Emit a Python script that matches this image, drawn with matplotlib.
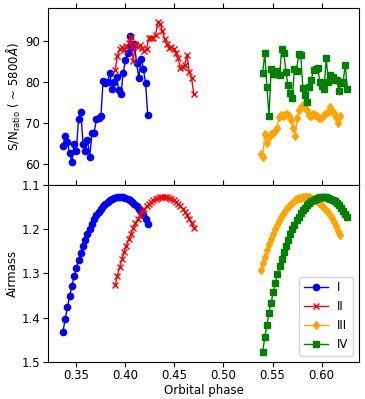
import matplotlib
matplotlib.use("Agg")
import matplotlib.pyplot as plt

# Orbital phase of each exposure
phase_I = [0.3365, 0.3388, 0.3410, 0.3433, 0.3456, 0.3479, 0.3501, 0.3524, 0.3547, 0.3570,
           0.3592, 0.3615, 0.3638, 0.3661, 0.3683, 0.3706, 0.3729, 0.3752, 0.3774, 0.3797,
           0.3820, 0.3843, 0.3865, 0.3888, 0.3911, 0.3934, 0.3956, 0.3979, 0.4002, 0.4025,
           0.4047, 0.4070, 0.4093, 0.4116, 0.4138, 0.4161, 0.4184, 0.4207, 0.4229]
snr_I = [64.6, 66.9, 65.4, 62.8, 60.6, 65.0, 63.2, 71.1, 72.8, 65.0,
         63.2, 65.9, 61.9, 67.6, 67.7, 71.1, 71.3, 71.8, 80.4, 79.8,
         80.1, 82.3, 78.3, 80.1, 81.2, 78.1, 77.1, 82.3, 85.4, 87.2,
         91.3, 88.7, 89.3, 84.6, 81.0, 85.8, 83.2, 79.8, 72.0]
airmass_I = [1.433, 1.403, 1.377, 1.352, 1.329, 1.307, 1.288, 1.270, 1.253, 1.237,
             1.224, 1.211, 1.199, 1.188, 1.178, 1.169, 1.161, 1.154, 1.148, 1.143,
             1.138, 1.135, 1.132, 1.129, 1.128, 1.127, 1.127, 1.128, 1.129, 1.132,
             1.135, 1.138, 1.143, 1.148, 1.154, 1.161, 1.169, 1.178, 1.188]

phase_II = [0.3897, 0.3920, 0.3943, 0.3966, 0.3989, 0.4011, 0.4034, 0.4057, 0.4080, 0.4103,
            0.4126, 0.4149, 0.4172, 0.4195, 0.4217, 0.4240, 0.4263, 0.4286, 0.4309, 0.4332,
            0.4355, 0.4378, 0.4401, 0.4423, 0.4446, 0.4469, 0.4492, 0.4515, 0.4538, 0.4561,
            0.4584, 0.4607, 0.4630, 0.4652, 0.4675, 0.4698]
snr_II = [83.0, 86.5, 88.0, 88.5, 87.8, 88.8, 89.5, 91.0, 85.2, 89.3,
          88.5, 89.0, 88.3, 87.6, 88.0, 90.7, 90.8, 90.9, 91.6, 94.7,
          94.3, 92.5, 90.5, 89.3, 88.3, 88.6, 88.2, 87.1, 86.0, 83.4,
          83.8, 84.3, 86.6, 82.6, 81.0, 77.2]
airmass_II = [1.326, 1.305, 1.286, 1.268, 1.251, 1.237, 1.223, 1.210, 1.198, 1.187,
              1.178, 1.169, 1.161, 1.154, 1.148, 1.143, 1.138, 1.134, 1.131, 1.129,
              1.128, 1.127, 1.127, 1.128, 1.129, 1.131, 1.134, 1.138, 1.143, 1.148,
              1.154, 1.161, 1.169, 1.178, 1.187, 1.198]

phase_III = [0.5379, 0.5400, 0.5420, 0.5441, 0.5461, 0.5482, 0.5503, 0.5523, 0.5544, 0.5565,
             0.5585, 0.5606, 0.5626, 0.5647, 0.5668, 0.5688, 0.5709, 0.5730, 0.5750, 0.5771,
             0.5791, 0.5812, 0.5833, 0.5853, 0.5874, 0.5895, 0.5915, 0.5936, 0.5956, 0.5977,
             0.5998, 0.6018, 0.6039, 0.6060, 0.6080, 0.6101, 0.6121, 0.6142, 0.6163, 0.6183]
snr_III = [62.5, 61.8, 67.3, 65.2, 66.8, 67.3, 67.6, 68.1, 68.8, 71.5,
           72.0, 71.7, 72.1, 72.2, 71.9, 70.8, 69.0, 67.0, 71.2, 73.3,
           74.0, 74.6, 73.8, 73.2, 72.0, 71.8, 72.4, 72.0, 71.7, 71.4,
           71.2, 71.8, 72.2, 72.8, 74.1, 73.0, 72.6, 71.6, 70.2, 71.8]
airmass_III = [1.293, 1.276, 1.262, 1.247, 1.234, 1.222, 1.210, 1.200, 1.190, 1.181,
               1.173, 1.166, 1.159, 1.153, 1.148, 1.143, 1.139, 1.135, 1.132, 1.130,
               1.129, 1.128, 1.127, 1.127, 1.128, 1.129, 1.131, 1.133, 1.136, 1.140,
               1.144, 1.149, 1.155, 1.161, 1.168, 1.175, 1.183, 1.193, 1.203, 1.213]

phase_IV = [0.5399, 0.5421, 0.5442, 0.5464, 0.5485, 0.5507, 0.5528, 0.5550, 0.5572, 0.5593,
            0.5615, 0.5636, 0.5658, 0.5679, 0.5701, 0.5723, 0.5744, 0.5766, 0.5787, 0.5809,
            0.5830, 0.5852, 0.5874, 0.5895, 0.5917, 0.5938, 0.5960, 0.5981, 0.6003, 0.6025,
            0.6046, 0.6068, 0.6089, 0.6111, 0.6132, 0.6154, 0.6176, 0.6197, 0.6219, 0.6240,
            0.6262]
snr_IV = [82.3, 87.1, 78.9, 71.9, 83.2, 82.0, 82.0, 82.8, 81.7, 88.0,
          87.2, 82.5, 79.3, 77.3, 76.3, 83.2, 82.8, 86.9, 86.6, 78.5,
          76.9, 75.2, 78.9, 80.6, 83.0, 83.2, 83.6, 80.1, 79.1, 78.3,
          85.9, 80.1, 81.9, 81.2, 80.6, 80.6, 77.8, 79.8, 80.1, 84.3,
          78.3]
airmass_IV = [1.477, 1.445, 1.417, 1.390, 1.366, 1.343, 1.322, 1.302, 1.284, 1.267,
              1.251, 1.237, 1.224, 1.212, 1.200, 1.190, 1.180, 1.172, 1.164, 1.157,
              1.151, 1.145, 1.141, 1.137, 1.133, 1.131, 1.129, 1.128, 1.127, 1.127,
              1.128, 1.129, 1.131, 1.134, 1.137, 1.141, 1.146, 1.152, 1.158, 1.165,
              1.173]

labels = ["I", "II", "III", "IV"]
colors = ["blue", "red", "orange", "green"]
markers = ["o", "x", "d", "s"]
phases = [phase_I, phase_II, phase_III, phase_IV]
snrs = [snr_I, snr_II, snr_III, snr_IV]
airmasses = [airmass_I, airmass_II, airmass_III, airmass_IV]

plt.rcParams["font.size"] = 8.5

fig = plt.figure(figsize=(3.65, 3.99), dpi=100)
ax1 = fig.add_axes([0.1315, 0.5363, 0.852, 0.4437])
ax2 = fig.add_axes([0.1315, 0.0935, 0.852, 0.4428], sharex=ax1)

for ph, sn, am, lab, col, mk in zip(phases, snrs, airmasses, labels, colors, markers):
    ax1.plot(ph, sn, marker=mk, color=col, markersize=4.5, linewidth=1)
    ax2.plot(ph, am, marker=mk, color=col, markersize=4.5, linewidth=1, label=lab)

ax1.set_xlim(0.3213, 0.638)
ax1.set_ylim(55.0, 98.1)
ax1.set_yticks([60, 70, 80, 90])
ax1.set_ylabel(r"S/N$_{\rm ratio}$ ( ~ 5800$\AA$)", labelpad=2)
ax1.tick_params(axis="x", top=True, bottom=False, labelbottom=False, direction="out")
ax1.tick_params(axis="y", pad=2)

ax2.set_ylim(1.5, 1.1)
ax2.set_yticks([1.1, 1.2, 1.3, 1.4, 1.5])
ax2.set_xticks([0.35, 0.40, 0.45, 0.50, 0.55, 0.60])
ax2.set_ylabel("Airmass", labelpad=2)
ax2.set_xlabel("Orbital phase", labelpad=1)
ax2.tick_params(axis="x", top=True, bottom=True, direction="out", pad=2)
ax2.tick_params(axis="y", pad=2)

ax2.legend(loc="lower right", fontsize=8.5)

fig.savefig("out.png", dpi=100)
